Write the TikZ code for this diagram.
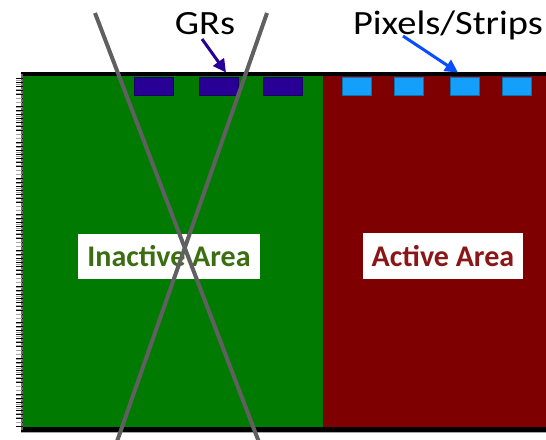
\documentclass[tikz,border=0pt]{standalone}
\usepackage{fontspec}
\setmainfont{Carlito}
\newfontfamily\calloutfont[FakeStretch=1.13]{Carlito}
\usetikzlibrary{arrows.meta}

\definecolor{inactivefill}{RGB}{0,122,0}
\definecolor{activefill}{RGB}{127,0,0}
\definecolor{grblue}{RGB}{40,0,150}
\definecolor{pixblue}{RGB}{20,160,250}
\definecolor{pixarrow}{RGB}{10,76,255}
\definecolor{inactivetext}{RGB}{58,110,16}
\definecolor{activetext}{RGB}{139,22,22}
\definecolor{crossgray}{RGB}{96,96,96}

\tikzset{
  toplabel/.style={font=\calloutfont\fontsize{34}{36}\selectfont, inner sep=0pt, anchor=base},
  areabox/.style={fill=white, font=\fontsize{30}{34}\selectfont\bfseries, inner sep=0pt},
  grpad/.style={fill=grblue, draw=grblue!70!black, line width=0.5pt},
  pixpad/.style={fill=pixblue, draw=pixblue!70!black, line width=0.5pt},
  pointer/.style={line width=3pt, -{Triangle[length=13pt,width=13pt]}},
  crossline/.style={draw=crossgray, line width=4pt},
  edgetick/.style={line width=0.8pt}
}

\begin{document}
\begin{tikzpicture}[x=1pt,y=-1pt]
\useasboundingbox (0,0) rectangle (546,439);
\clip (0,0) rectangle (546,439);

% sensor bulk: inactive edge region and active region
\fill[inactivefill] (22,76) rectangle (323,427);
\fill[activefill] (323,76) rectangle (546,427);

% metal layers top and bottom
\fill[black] (21,72) rectangle (546,76);
\fill[black] (21,427) rectangle (546,431.5);
\draw[gray!70, line width=0.8pt] (21,432) -- (546,432);

% saw-cut edge on the left
\fill[black!60] (21,74) rectangle (22.5,430);
\foreach \y in {78,82,...,426} \draw[edgetick, black] (16,\y) -- (23,\y);
\foreach \y in {80,84.5,...,426} \draw[edgetick, gray!70] (16,\y) -- (22,\y);

% guard rings
\foreach \x [count=\i] in {134,199,263}
  \path[grpad] (\x,77) rectangle ++(39,18) coordinate (gr\i);
% pixel / strip implants
\foreach \x [count=\i] in {342,394,450,502}
  \path[pixpad] (\x,77) rectangle ++(29,18) coordinate (px\i);

% region labels
\node[areabox, minimum width=182pt, minimum height=45pt, text=inactivetext]
  (inact) at (169,256.5) {Inactive Area};
\node[areabox, minimum width=160pt, minimum height=46pt, text=activetext]
  (act) at (443,256) {Active Area};

% crossed-out inactive region
\draw[crossline] (95,13) -- (262,450);
\draw[crossline] (267,13) -- (114,450);

% top labels and pointers
\node[toplabel] (grs) at (205,34) {GRs};
\node[toplabel] (pix) at (448,34) {Pixels/Strips};
\coordinate (grtip) at (226,72.5);
\coordinate (pixtip) at (458,72.5);
\draw[pointer, grblue] ([shift={(-3,5)}]grs.base) -- (grtip);
\draw[pointer, pixarrow] ([shift={(-45,2)}]pix.base) -- (pixtip);
\end{tikzpicture}
\end{document}
